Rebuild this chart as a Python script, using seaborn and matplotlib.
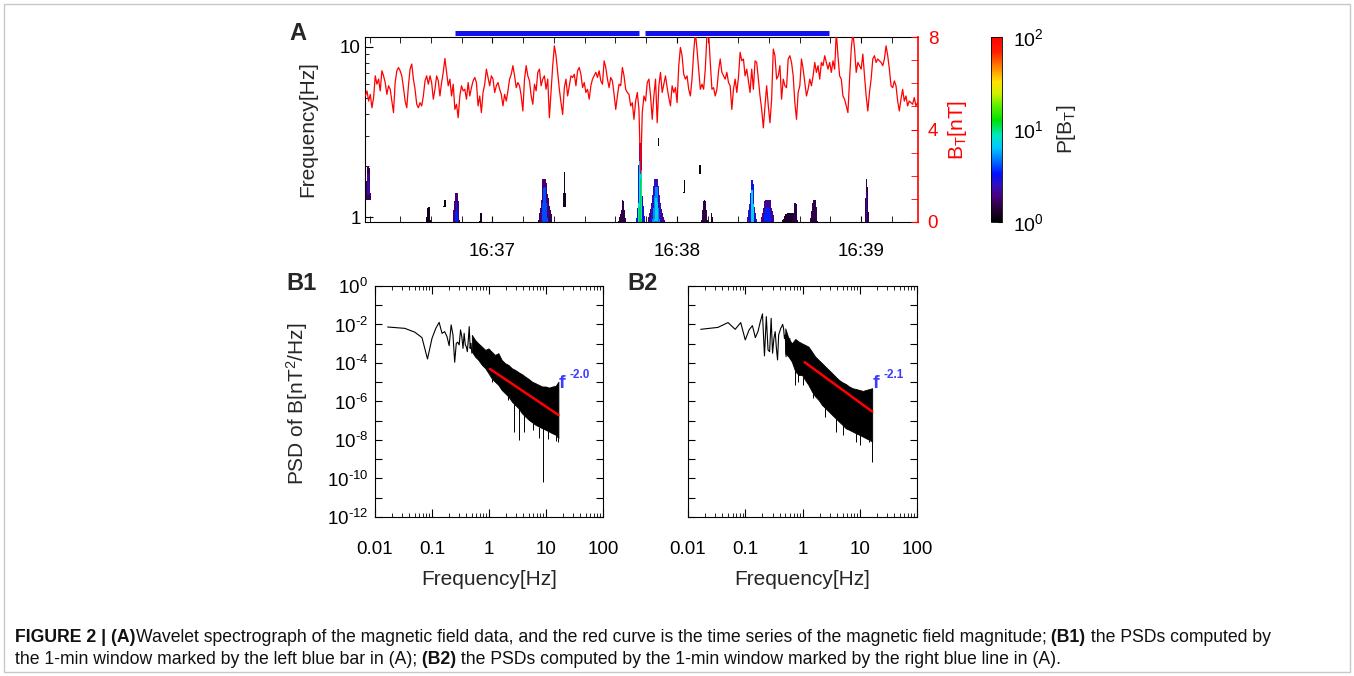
import matplotlib as mpl

mpl.use('Agg')
import matplotlib.pyplot as plt
import numpy as np
import pandas as pd
import seaborn as sns
from matplotlib.colors import LinearSegmentedColormap, LogNorm
from matplotlib.patches import Rectangle
from matplotlib.ticker import (FixedLocator, FuncFormatter, LogLocator,
                               MultipleLocator, NullLocator)
from matplotlib.transforms import blended_transform_factory

#### data ####
# |B| (nT), evenly sampled between bt_start and bt_end (s after 16:36:00)
bt_start, bt_end = 18.6, 198.9
bt_seg1 = [5.45, 5.67, 5.23, 5.52, 4.94, 5.38, 6.32, 5.96, 6.18, 5.67, 6.54, 6.32,
           6.03, 5.52, 5.89, 5.74, 5.23, 4.73, 6.03, 6.54, 6.68, 6.54, 6.32, 5.81,
           5.23, 4.94, 5.89, 6.61, 6.83, 6.18, 5.74, 5.09, 4.94, 5.16, 5.02, 5.45,
           6.10, 6.32, 5.96, 6.32, 6.03, 5.31, 5.74, 6.32, 6.10, 5.45, 6.03, 6.47,
           7.07, 6.47, 5.89, 6.18, 5.45, 5.96, 4.87, 5.09, 4.51, 5.45, 5.89, 5.67,
           5.74, 5.31, 6.03, 5.45, 5.81, 6.10, 6.25, 6.03, 5.02, 5.45, 4.73, 5.60,
           5.96, 6.61, 6.25, 5.89, 6.32, 6.18, 5.60, 5.89, 6.03, 5.74, 5.52]
bt_seg2 = [5.02, 5.52, 5.23, 5.67, 6.18, 6.39, 6.76, 6.32, 5.81, 6.03, 5.89, 5.45,
           4.80, 6.18, 6.76, 6.32, 6.10, 5.45, 5.09, 5.96, 5.67, 6.47, 6.61, 5.89,
           6.18, 6.32, 5.74, 6.18, 4.51, 5.67, 6.76, 7.62, 7.19, 6.47, 5.74, 5.16,
           4.65, 5.81, 6.18, 5.45, 5.89, 6.32, 6.25, 6.39, 5.89, 6.54, 6.68, 6.39,
           5.81, 6.03, 5.60, 5.74, 5.31, 5.89, 6.18, 6.32, 6.47, 6.25, 6.54, 6.10,
           5.96, 6.97, 6.68, 6.18, 5.81, 6.25, 6.10, 5.52, 4.87, 5.45, 5.96, 5.89,
           6.68, 6.32, 5.74, 5.60, 5.52, 5.02, 5.16, 4.44]
bt_seg3 = [5.23, 5.60, 4.87, 2.10, 4.73, 5.45, 5.23, 6.03, 6.18, 5.45, 4.44, 5.45,
           6.18, 4.29, 5.89, 6.47, 5.60, 5.96, 6.32, 5.81, 5.38, 5.02, 5.89, 5.60,
           5.81, 5.16, 6.76, 7.55, 7.19, 6.39, 6.18, 6.32, 5.74, 5.45, 6.18, 7.34,
           8.20, 7.48, 6.61, 5.74, 5.96, 5.74, 6.61, 8.10, 8.20, 6.90, 5.74, 5.81,
           5.45, 5.74, 6.54, 7.05, 6.47, 6.32, 6.18, 6.47, 6.03, 5.89, 4.87, 5.74,
           6.18, 5.60, 6.25, 7.34, 6.97, 7.05, 6.32, 6.61, 6.10, 5.60, 6.61, 5.74,
           6.97, 6.90, 6.18, 5.45, 4.87, 4.07, 5.02, 5.89, 5.02, 4.29, 5.31, 7.48,
           7.19, 6.18, 6.32, 6.76]
bt_seg4 = [5.31, 6.18, 5.89, 5.81, 7.05, 7.19, 6.90, 6.32, 5.16, 4.44, 5.60, 5.89,
           7.05, 6.61, 6.03, 5.45, 5.74, 6.18, 5.89, 6.32, 6.90, 6.47, 6.76, 6.18,
           6.90, 6.76, 7.19, 6.90, 6.61, 6.90, 6.47, 6.97, 6.61, 8.20, 7.19, 6.32,
           6.18, 5.45, 5.31, 5.02, 4.73, 6.18, 7.48, 8.20, 7.48, 6.47, 6.90, 6.76,
           6.61, 7.26, 6.32, 5.45, 4.80, 5.60, 6.18, 7.05, 7.19, 6.90, 7.05, 6.97,
           6.90, 6.76, 7.05, 7.62, 7.19, 6.61, 5.89, 5.81, 6.10, 5.89, 5.23, 4.80,
           5.31, 5.74, 5.23, 5.45, 5.02, 5.23, 5.16, 5.09, 5.38, 5.02, 5.16, 4.94]

# 1-min windows used for the PSDs (s after 16:36:00)
win_start = [47.8, 109.6]
win_end = [107.6, 169.4]

# wavelet power patches: t0, t1 (s), f0, f1 (Hz), power
spec_patches = [
    (18.5, 20.5, 1.26, 1.97, 1.6), (18.9, 20.1, 1.35, 1.80, 2.2),
    (38.4, 40.0, 0.90, 1.15, 1.2), (44.1, 44.8, 1.15, 1.26, 1.1),
    (47.0, 49.5, 0.90, 1.38, 1.8), (47.6, 48.9, 0.90, 1.20, 3.5),
    (55.8, 56.6, 0.90, 1.06, 1.2),
    (74.6, 79.8, 0.90, 1.30, 1.6), (75.3, 78.6, 0.90, 1.67, 1.8),
    (76.0, 78.0, 0.90, 1.50, 4.0),
    (83.0, 84.0, 1.15, 1.84, 1.2),
    (100.9, 103.8, 0.90, 1.10, 1.5), (101.8, 103.0, 0.90, 1.26, 1.5),
    (106.7, 109.6, 0.90, 1.50, 3.0), (107.2, 109.0, 0.90, 2.72, 3.0),
    (107.5, 108.7, 0.90, 2.20, 8.0), (107.8, 108.4, 0.90, 1.70, 12.0),
    (110.3, 116.2, 0.90, 1.30, 2.0), (111.3, 115.2, 0.90, 1.67, 2.5),
    (112.0, 114.5, 0.90, 1.50, 5.0), (112.6, 114.0, 0.95, 1.30, 7.0),
    (113.8, 114.2, 2.60, 2.90, 1.0), (122.1, 122.6, 1.38, 1.65, 1.1),
    (127.3, 127.8, 1.80, 2.00, 1.1), (128.0, 130.0, 0.90, 1.26, 1.5),
    (131.0, 131.8, 0.90, 1.06, 1.3),
    (142.8, 146.1, 0.90, 1.30, 2.5), (143.4, 145.5, 0.90, 1.65, 3.0),
    (143.9, 145.1, 0.90, 1.45, 7.0),
    (147.1, 152.0, 0.90, 1.26, 2.0), (148.0, 151.0, 0.90, 1.15, 3.5),
    (153.6, 160.1, 0.90, 1.06, 1.3), (157.5, 159.5, 0.90, 1.20, 1.5),
    (163.4, 166.0, 0.90, 1.26, 1.5),
    (181.1, 182.5, 0.90, 1.67, 1.5), (181.5, 182.1, 0.90, 1.40, 2.2),
]

# PSD, low-frequency part: log10 P at the FFT bins k/60 Hz, k = 1..n
psd1_lf = [-2.13, -2.20, -2.40, -2.68, -3.79, -2.72, -2.20, -1.89, -2.46, -2.37,
           -2.63, -3.10, -2.02, -2.54, -3.96, -2.98, -2.92, -3.06, -2.28, -2.63,
           -3.24, -2.46, -3.06, -3.15, -3.41, -2.80, -2.11, -3.24, -2.98, -3.49]
psd2_lf = [-2.25, -2.15, -1.90, -2.25, -1.90, -2.80, -2.28, -2.06, -2.68, -2.37,
           -1.85, -1.45, -3.63, -1.59, -3.32, -3.41, -1.68, -3.49, -2.72, -2.37,
           -3.24, -3.84, -2.54, -2.37, -2.20, -2.11, -1.99, -2.20, -2.72, -2.54,
           -3.67, -2.72, -3.41, -2.98, -3.67, -2.72]

# PSD, dense part: upper/lower edge (log10 P) of the noisy band
env_freq = [0.5, 0.57, 0.65, 0.75, 0.86, 0.98, 1.11, 1.27, 1.46, 1.67, 1.91, 2.19,
            2.51, 2.88, 3.30, 3.78, 4.33, 4.97, 5.70, 6.53, 7.49, 8.58, 9.84, 11.3,
            12.9, 14.8, 16.5]
psd1_hi = [-2.54, -2.80, -2.98, -3.15, -3.32, -3.24, -3.41, -3.58, -3.49, -3.84,
           -4.01, -4.10, -4.27, -4.36, -4.48, -4.58, -4.71, -4.83, -4.97, -5.05,
           -5.14, -5.22, -5.22, -5.28, -5.22, -5.19, -4.97]
psd1_lo = [-3.41, -3.67, -3.84, -4.10, -4.27, -4.53, -4.79, -4.97, -5.14, -5.40,
           -5.57, -5.74, -6.00, -6.18, -6.35, -6.61, -6.78, -6.95, -7.08, -7.21,
           -7.30, -7.39, -7.47, -7.56, -7.65, -7.73, -7.91]
psd2_hi = [-2.20, -2.72, -2.98, -2.75, -2.89, -2.98, -3.06, -3.15, -3.41, -3.67,
           -3.84, -4.01, -4.19, -4.36, -4.53, -4.71, -4.88, -5.00, -5.09, -5.22,
           -5.31, -5.35, -5.40, -5.45, -5.40, -5.35, -5.31]
psd2_lo = [-3.50, -3.67, -3.93, -4.45, -4.62, -4.62, -4.88, -5.14, -5.48, -5.74,
           -5.92, -6.18, -6.35, -6.52, -6.70, -6.87, -7.04, -7.21, -7.39, -7.47,
           -7.56, -7.65, -7.73, -7.82, -7.91, -8.00, -8.08]

# deep single-bin drops below the band
spike1_f = [1.14, 1.75, 2.14, 2.74, 3.30, 4.1, 6.0, 7.5, 8.7, 11.0, 14.8, 16.3]
spike1_p = [-4.97, -5.48, -5.92, -7.56, -8.00, -7.56, -7.47, -7.90, -10.16, -7.94,
            -8.04, -8.08]
spike2_f = [0.74, 0.83, 1.04, 1.5, 2.5, 3.78, 5.1, 8.6, 10.1, 14.8, 16.3]
spike2_p = [-5.14, -4.97, -5.14, -5.83, -6.78, -7.56, -7.73, -8.08, -8.25, -8.08,
            -9.12]

# power-law fits
fit1_f, fit1_p, fit1_label = [1.04, 16.5], [4.9e-5, 2.0e-7], '-2.0'
fit2_f, fit2_p, fit2_label = [1.09, 16.5], [1.1e-4, 3.0e-7], '-2.1'
###############

sns.set_style('ticks', {'axes.edgecolor': 'black', 'xtick.color': 'black',
                        'ytick.color': 'black', 'xtick.direction': 'in',
                        'ytick.direction': 'in'})
plt.rcParams['font.family'] = ['Liberation Sans', 'DejaVu Sans']
plt.rcParams['mathtext.fontset'] = 'custom'
plt.rcParams['mathtext.rm'] = 'Liberation Sans'
plt.rcParams['mathtext.it'] = 'Liberation Sans:italic'
plt.rcParams['mathtext.bf'] = 'Liberation Sans:bold'

W, H = 1354, 676
fig = plt.figure(figsize=(W / 100, H / 100), dpi=100)


def frac(x0, y0, x1, y1):
    return [x0 / W, 1 - y1 / H, (x1 - x0) / W, (y1 - y0) / H]


def sup_label(v):
    e = int(round(np.log10(v)))
    s = ('-%d' % -e) if e < 0 else '%d' % e
    return r'$\mathregular{10^{\text{%s}}}$' % s


rainbow = LinearSegmentedColormap.from_list('idl_rainbow', [
    (0.00, '#000000'), (0.08, '#2a0040'), (0.14, '#4a0080'), (0.20, '#3010c0'),
    (0.26, '#0010ff'), (0.33, '#0070ff'), (0.40, '#00c8ff'), (0.47, '#00e8c0'),
    (0.55, '#00e000'), (0.63, '#60f000'), (0.70, '#d8f000'), (0.76, '#ffe000'),
    (0.84, '#ff8000'), (0.92, '#ff2000'), (1.00, '#ff0000')])

# ---------------- panel A ----------------
t_lim = (18.5, 198.5)
f_lim = (0.935, 11.4)
axA = fig.add_axes(frac(365, 37, 918, 222))
t_edges = np.arange(t_lim[0], t_lim[1] + 0.25, 0.25)
f_edges = np.logspace(np.log10(f_lim[0]), np.log10(f_lim[1]), 220)
tc = 0.5 * (t_edges[1:] + t_edges[:-1])
fc = np.sqrt(f_edges[1:] * f_edges[:-1])
power = np.full((len(fc), len(tc)), np.nan)
for t0, t1, f0, f1, pw in spec_patches:
    # wavelet cones narrow towards their top frequency
    mid, half = 0.5 * (t0 + t1), 0.5 * (t1 - t0)
    for j in np.where((fc >= f0) & (fc <= f1))[0]:
        h = (np.log(fc[j]) - np.log(f0)) / (np.log(f1) - np.log(f0))
        w = max(half * (1 - 0.65 * h), 0.2)
        power[j, np.abs(tc - mid) <= w] = pw
mesh = axA.pcolormesh(t_edges, f_edges, np.ma.masked_invalid(power),
                      cmap=rainbow, norm=LogNorm(1, 100), shading='flat')
axA.set_yscale('log')
axA.set_xlim(*t_lim)
axA.set_ylim(*f_lim)
axA.yaxis.set_major_locator(FixedLocator([1, 10]))
axA.yaxis.set_major_formatter(FuncFormatter(lambda v, p: '%g' % v))
axA.yaxis.set_minor_locator(FixedLocator([2, 3, 4, 5, 6, 7, 8, 9]))
axA.yaxis.set_minor_formatter(FuncFormatter(lambda v, p: ''))
axA.xaxis.set_major_locator(FixedLocator([60, 120, 180]))
axA.xaxis.set_minor_locator(MultipleLocator(10))
axA.xaxis.set_major_formatter(
    FuncFormatter(lambda v, p: '16:%02d' % (36 + int(round(v / 60)))))
axA.tick_params(which='both', direction='in', top=True, right=False,
                labelsize=13.5)
axA.tick_params(axis='x', which='both', length=4, pad=15)
axA.tick_params(axis='y', which='major', length=6, pad=3)
axA.tick_params(axis='y', which='minor', length=3)
axA.spines['right'].set_visible(False)
axA.set_ylabel('Frequency[Hz]', fontsize=15)
axA.yaxis.set_label_coords(-0.103, 0.5)
axA.yaxis.label.set_va('center')

axB = axA.twinx()
bt = np.concatenate([bt_seg1, bt_seg2, bt_seg3, bt_seg4])
bt_df = pd.DataFrame({'t': np.linspace(bt_start, bt_end, len(bt)), 'B': bt})
sns.lineplot(data=bt_df, x='t', y='B', ax=axB, color='#ff0000', lw=0.9,
             estimator=None, sort=False)
axB.set_xlim(*t_lim)
axB.set_ylim(0, 8)
axB.yaxis.set_major_locator(FixedLocator([0, 4, 8]))
axB.yaxis.set_minor_locator(MultipleLocator(1))
axB.tick_params(axis='y', which='both', colors='red', direction='in',
                length=5, labelsize=13.5, pad=7)
for side in ['left', 'top', 'bottom']:
    axB.spines[side].set_visible(False)
axB.spines['right'].set_color('red')
axB.spines['right'].set_linewidth(1.2)
axB.set_xlabel('')
axB.set_ylabel(r'B$_\mathregular{T}$[nT]', fontsize=15, color='red')
axB.yaxis.set_label_coords(1.072, 0.5)
axB.yaxis.label.set_va('center')

# windows marked above panel A
bar_tr = blended_transform_factory(axA.transData, axA.transAxes)
for s, e in zip(win_start, win_end):
    axA.plot([s, e], [1.022, 1.022], transform=bar_tr, color='#1010f0', lw=3.6,
             solid_capstyle='butt', clip_on=False)

cax = fig.add_axes(frac(991, 37, 1002, 222))
cb = fig.colorbar(mesh, cax=cax)
cb.outline.set_linewidth(0.6)
cb.set_ticks([1, 10, 100])
cb.set_ticklabels([sup_label(1), sup_label(10), sup_label(100)])
cax.yaxis.set_minor_locator(NullLocator())
cax.tick_params(direction='in', length=3, labelsize=14, pad=8)
cb.set_label(r'P[B$_\mathregular{T}$]', fontsize=15)
cax.yaxis.set_label_coords(6.9, 0.5)
cax.yaxis.label.set_va('center')

fig.text(289 / W, 1 - 33 / H, 'A', fontsize=17, fontweight='bold', va='center')

# ---------------- panels B1 / B2 ----------------
psd_sets = [
    (frac(375, 286, 603, 517), psd1_lf, psd1_hi, psd1_lo, spike1_f, spike1_p,
     fit1_f, fit1_p, fit1_label, 'B1', 286),
    (frac(688, 286, 917, 517), psd2_lf, psd2_hi, psd2_lo, spike2_f, spike2_p,
     fit2_f, fit2_p, fit2_label, 'B2', 627),
]
log_env_f = np.log10(env_freq)
for i, (rect, lf, hi, lo, sf, sp, ff, fp, lab, name, lx) in enumerate(psd_sets):
    ax = fig.add_axes(rect)
    ax.set_xscale('log')
    ax.set_yscale('log')
    lf_df = pd.DataFrame({'f': np.arange(1, len(lf) + 1) / 60.0,
                          'p': 10.0 ** np.array(lf)})
    sns.lineplot(data=lf_df, x='f', y='p', ax=ax, color='black', lw=0.8,
                 estimator=None, sort=False)
    ax.fill_between(env_freq, 10.0 ** np.array(lo), 10.0 ** np.array(hi),
                    color='black', lw=0.6)
    top = 10.0 ** np.interp(np.log10(sf), log_env_f, lo)
    ax.vlines(sf, 10.0 ** np.array(sp), top, color='black', lw=0.7)
    sns.lineplot(x=ff, y=fp, ax=ax, color='#ff0000', lw=1.8, estimator=None,
                 sort=False)
    ax.text(16.9, 10 ** -5.05, 'f', color='#3c3cff', fontsize=14,
            fontweight='bold', ha='left', va='center')
    ax.text(26, 10 ** -4.62, lab, color='#3c3cff', fontsize=8.5,
            fontweight='bold', ha='left', va='center')
    ax.set_xlim(0.01, 100)
    ax.set_ylim(1e-12, 1)
    ax.xaxis.set_major_locator(FixedLocator([0.01, 0.1, 1, 10, 100]))
    ax.xaxis.set_major_formatter(FuncFormatter(lambda v, p: '%g' % v))
    ax.xaxis.set_minor_locator(LogLocator(base=10, subs=np.arange(2, 10),
                                          numticks=20))
    ax.xaxis.set_minor_formatter(FuncFormatter(lambda v, p: ''))
    ax.yaxis.set_major_locator(FixedLocator(10.0 ** np.arange(-12, 1)))
    ax.yaxis.set_minor_locator(NullLocator())
    if i == 0:
        ax.yaxis.set_major_formatter(FuncFormatter(
            lambda v, p: sup_label(v) if round(np.log10(v)) % 2 == 0 else ''))
        ax.set_ylabel(r'PSD of B[nT$^\mathregular{2}$/Hz]', fontsize=15)
        ax.yaxis.set_label_coords(-0.342, 0.49)
        ax.yaxis.label.set_va('center')
    else:
        ax.yaxis.set_major_formatter(FuncFormatter(lambda v, p: ''))
        ax.set_ylabel('')
    ax.tick_params(which='both', direction='in', top=True, right=True,
                   labelsize=13.5)
    ax.tick_params(axis='x', which='major', length=6, pad=17)
    ax.tick_params(axis='x', which='minor', length=3)
    ax.tick_params(axis='y', which='major', length=5, pad=5)
    ax.set_xlabel('Frequency[Hz]', fontsize=15)
    ax.xaxis.set_label_coords(0.5, -0.27)
    ax.xaxis.label.set_va('center')
    fig.text(lx / W, 1 - 283 / H, name, fontsize=17, fontweight='bold',
             va='center')

# ---------------- caption ----------------
renderer = fig.canvas.get_renderer()


def caption_line(x, y, runs, size=12.7):
    for txt, weight in runs:
        t = fig.text(x, y, txt, fontsize=size, fontweight=weight,
                     va='center', ha='left', color='#111111')
        x += t.get_window_extent(renderer).width / W


caption_line(15 / W, 1 - 637 / H, [
    ('FIGURE 2 | (A)', 'bold'),
    ('Wavelet spectrograph of the magnetic field data, and the red curve is '
     'the time series of the magnetic field magnitude;', 'normal'),
    (' (B1)', 'bold'),
    (' the PSDs computed by', 'normal')])
caption_line(15 / W, 1 - 660 / H, [
    ('the 1-min window marked by the left blue bar in (A);', 'normal'),
    (' (B2)', 'bold'),
    (' the PSDs computed by the 1-min window marked by the right blue line in (A).',
     'normal')])

fig.patches.append(Rectangle((0.003, 0.006), 0.994, 0.988, transform=fig.transFigure,
                             fill=False, ec='#c8c8c8', lw=1))

fig.savefig('out.png', dpi=100)
